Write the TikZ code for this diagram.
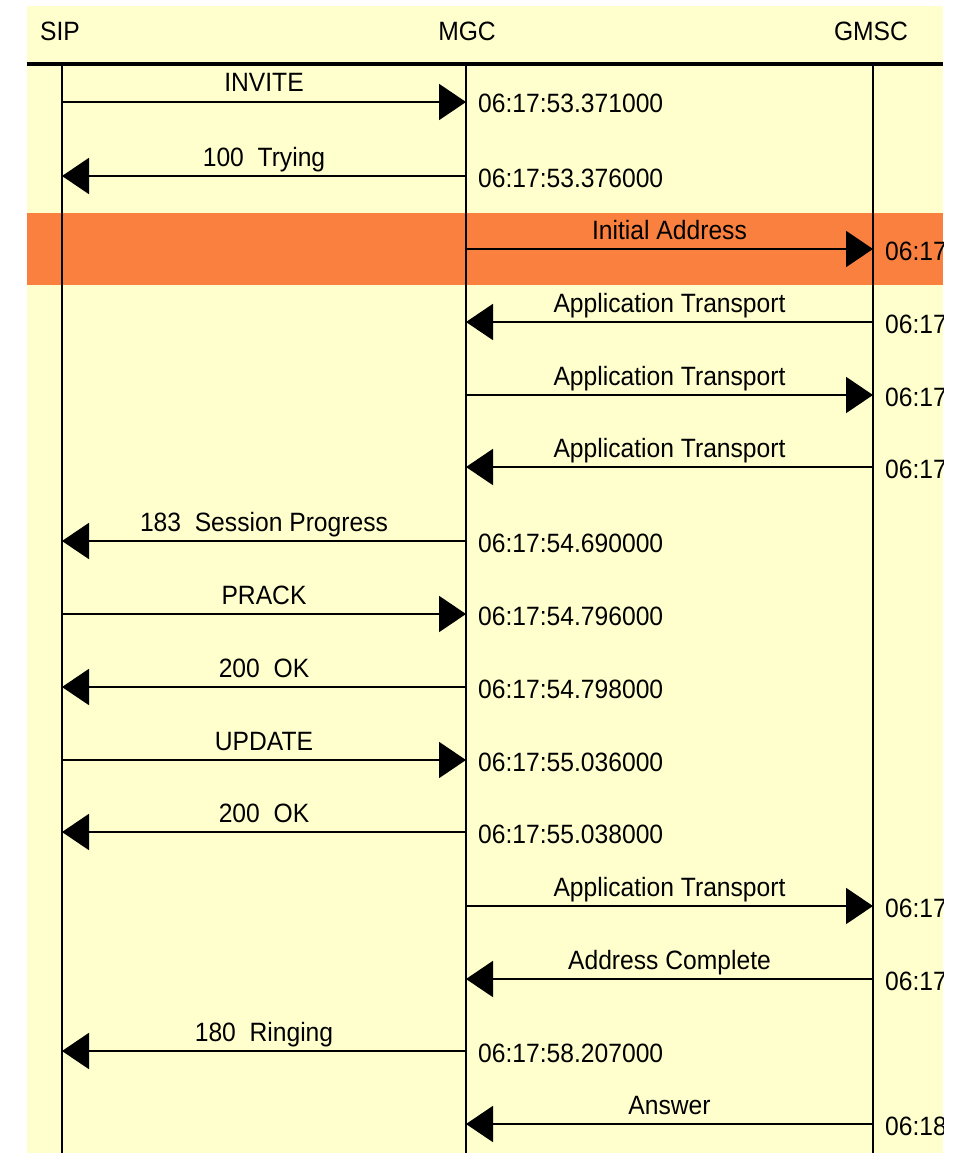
\documentclass[tikz,border=0pt]{standalone}
\usepackage{fontspec}
\setmainfont{Liberation Sans}
\newfontfamily\diagfont[FakeStretch=0.93]{Liberation Sans}
\usetikzlibrary{arrows.meta}
\definecolor{bgyellow}{RGB}{255,255,206}
\definecolor{bandorange}{RGB}{249,128,62}
\tikzset{
  msg/.style={line width=2pt, -{Triangle[length=27pt,width=36pt]}},
  lifeline/.style={line width=2pt},
  headline/.style={line width=3.5pt},
  lbl/.style={font=\diagfont\fontsize{26.5}{31}\selectfont, inner sep=0pt, anchor=base},
  stamp/.style={font=\diagfont\fontsize{26.5}{31}\selectfont, inner sep=0pt, anchor=base west},
}
\begin{document}
\begin{tikzpicture}[x=1pt,y=-1pt]
\useasboundingbox (0,0) rectangle (961,1153);
\fill[white] (0,0) rectangle (961,1153);
\begin{scope}
\clip (27,6) rectangle (943,1153);
\fill[bgyellow] (27,6) rectangle (943,1153);
\fill[bandorange] (27,213) rectangle (943,285);
% headers
\node[lbl] (sip) at (60,41) {SIP};
\node[lbl] (mgc) at (467,41) {MGC};
\node[lbl] (gmsc) at (871,41) {GMSC};
\coordinate (hl) at (27,64);
\coordinate (hr) at (943,64);
\draw[headline] (hl) -- (hr);
% lifelines
\coordinate (sipT) at (62,64);   \coordinate (sipB) at (62,1153);
\coordinate (mgcT) at (466,64);  \coordinate (mgcB) at (466,1153);
\coordinate (gmscT) at (873,64); \coordinate (gmscB) at (873,1153);
\draw[lifeline] (sipT) -- (sipB);
\draw[lifeline] (mgcT) -- (mgcB);
\draw[lifeline] (gmscT) -- (gmscB);
% messages
\foreach \n/\y/\a/\b/\l/\s/\sx in {
  1/102/62/466/INVITE/06:17:53.371000/478,
  2/176/466/62/100\ \ Trying/06:17:53.376000/478,
  3/249/466/873/Initial Address/06:17/885,
  4/322/873/466/Application Transport/06:17/885,
  5/395/466/873/Application Transport/06:17/885,
  6/467/873/466/Application Transport/06:17/885,
  7/541/466/62/183\ \ Session Progress/06:17:54.690000/478,
  8/614/62/466/PRACK/06:17:54.796000/478,
  9/687/466/62/200\ \ OK/06:17:54.798000/478,
  10/760/62/466/UPDATE/06:17:55.036000/478,
  11/832/466/62/200\ \ OK/06:17:55.038000/478,
  12/906/466/873/Application Transport/06:17/885,
  13/979/873/466/Address Complete/06:17/885,
  14/1051/466/62/180\ \ Ringing/06:17:58.207000/478,
  15/1124/873/466/Answer/06:18/885}
{
  \coordinate (m\n a) at (\a,\y);
  \coordinate (m\n b) at (\b,\y);
  \draw[msg] (m\n a) -- (m\n b);
  \node[lbl] (l\n) at ({(\a+\b)/2},\y-10) {\l};
  \node[stamp] (t\n) at (\sx,\y+11) {\s};
}
\end{scope}
\end{tikzpicture}
\end{document}
